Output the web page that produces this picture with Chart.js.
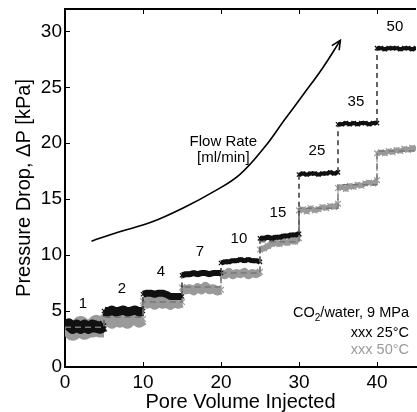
<!DOCTYPE html>
<html>
<head>
<meta charset="utf-8">
<script src="https://cdn.jsdelivr.net/npm/chart.js@4.4.0/dist/chart.umd.min.js"></script>
<style>
  html, body { margin: 0; padding: 0; background: #fff; }
  #wrap { width: 417px; height: 412px; }
</style>
</head>
<body>
<div id="wrap"><canvas id="chart" width="417" height="412"></canvas></div>
<script>
const FONT = "'Liberation Sans', Arial, Helvetica, sans-serif";

// one flow rate per step of 5 pore volumes
const stepStart = [0, 5, 10, 15, 20, 25, 30, 35, 40];
const flowRates = ['1', '2', '4', '7', '10', '15', '25', '35', '50'];

// pressure drop [kPa], read every 0.5 PV inside each step
const dp25 = [
  [3.6, 3.8, 3.5, 3.7, 3.5, 3.7, 3.5, 3.7, 3.6, 3.5, 3.7],
  [5.0, 4.9, 5.1, 4.9, 5.0, 5.1, 4.9, 5.0, 5.1, 4.9, 5.0],
  [6.5, 6.6, 6.6, 6.5, 6.6, 6.6, 6.5, 6.3, 6.3, 6.3, 6.3],
  [8.2, 8.3, 8.3, 8.4, 8.3, 8.4, 8.4, 8.3, 8.4, 8.4, 8.4],
  [9.3, 9.4, 9.4, 9.5, 9.5, 9.6, 9.5, 9.6, 9.5, 9.5, 9.4],
  [11.5, 11.5, 11.6, 11.5, 11.6, 11.6, 11.7, 11.7, 11.8, 11.8, 11.9],
  [17.2, 17.3, 17.2, 17.3, 17.3, 17.2, 17.3, 17.3, 17.4, 17.3, 17.4],
  [21.7, 21.7, 21.8, 21.7, 21.8, 21.7, 21.8, 21.8, 21.7, 21.8, 21.8],
  [28.5, 28.5, 28.4, 28.5, 28.5, 28.5, 28.4, 28.5, 28.5, 28.4, 28.5]
];
const dp50 = [
  [3.2, 3.5, 3.1, 3.4, 3.8, 3.2, 3.5, 3.4, 3.9, 3.4, 3.4],
  [4.1, 4.4, 4.0, 4.3, 4.1, 4.5, 4.0, 4.3, 4.4, 4.1, 4.3],
  [5.9, 5.7, 5.9, 5.6, 6.0, 5.7, 5.8, 5.6, 5.9, 5.7, 5.8],
  [7.1, 6.9, 7.0, 6.8, 7.1, 6.9, 7.2, 6.9, 7.0, 6.8, 6.9],
  [8.4, 8.2, 8.5, 8.2, 8.4, 8.3, 8.5, 8.2, 8.4, 8.3, 8.5],
  [10.5, 10.6, 10.8, 11.0, 11.1, 11.0, 11.2, 11.1, 11.3, 11.2, 11.5],
  [14.0, 14.1, 13.9, 14.2, 14.0, 14.1, 14.3, 14.2, 14.4, 14.3, 14.6],
  [16.0, 16.1, 15.9, 16.2, 16.1, 16.3, 16.2, 16.4, 16.5, 16.4, 16.7],
  [19.1, 19.2, 19.1, 19.3, 19.2, 19.4, 19.3, 19.5, 19.4, 19.6, 19.5]
];
// step averages at 50°C (dashed)
const mean50 = [3.55, 4.45, 5.8, 7.15, 8.4, 11.2, 14.2, 16.3, 19.3];

// "Flow Rate" arrow
const arrowX = [3.4, 6.8, 11.1, 15.4, 19.0, 22.4, 25.6, 28.1, 30.6, 33.1, 35.3];
const arrowY = [11.25, 12.05, 12.95, 14.3, 15.65, 17.2, 19.66, 22.05, 24.4, 26.8, 29.2];

const series25 = [];
const series50 = [];
stepStart.forEach((s, k) => {
  dp25[k].forEach((v, i) => series25.push({ x: s + i * 0.5, y: v }));
  dp50[k].forEach((v, i) => series50.push({ x: s + i * 0.5, y: v }));
});
const meanPts = stepStart.flatMap((s, k) => [{ x: s, y: mean50[k] }, { x: s + 5, y: mean50[k] }]);
const arrowPts = arrowX.map((x, i) => ({ x: x, y: arrowY[i] }));

// band thickness per step (px)
const band25 = [12, 9, 7, 6, 5, 5, 4, 4, 4];
const band50 = [17, 13, 11, 9, 8, 6, 5, 5, 5];

function isJump(c) { return c.p0.parsed.x === c.p1.parsed.x; }
function stepOf(c) { return Math.min(8, Math.floor(c.p0.parsed.x / 5)); }

const decor = {
  id: 'decor',
  afterDraw(chart) {
    const { ctx, chartArea: a, scales: { x, y } } = chart;
    ctx.save();
    // top frame line
    ctx.fillStyle = '#000';
    ctx.fillRect(a.left - 1, a.top - 1, a.right - a.left + 1, 2);
    // inward ticks
    ctx.strokeStyle = '#000';
    ctx.lineWidth = 1;
    ctx.beginPath();
    y.ticks.forEach(t => {
      const py = Math.round(y.getPixelForValue(t.value)) + 0.5;
      ctx.moveTo(a.left, py); ctx.lineTo(a.left + 5, py);
    });
    x.ticks.forEach(t => {
      const px = Math.round(x.getPixelForValue(t.value)) + 0.5;
      ctx.moveTo(px, a.bottom); ctx.lineTo(px, a.bottom - 5);
      ctx.moveTo(px, a.top); ctx.lineTo(px, a.top + 5);
    });
    ctx.stroke();

    // arrow head
    const n = arrowPts.length;
    const x1 = x.getPixelForValue(arrowPts[n - 2].x), y1 = y.getPixelForValue(arrowPts[n - 2].y);
    const x2 = x.getPixelForValue(arrowPts[n - 1].x), y2 = y.getPixelForValue(arrowPts[n - 1].y);
    const ang = Math.atan2(y2 - y1, x2 - x1);
    ctx.lineWidth = 1.6;
    ctx.beginPath();
    ctx.moveTo(x2 - 10 * Math.cos(ang - 0.45), y2 - 10 * Math.sin(ang - 0.45));
    ctx.lineTo(x2, y2);
    ctx.lineTo(x2 - 10 * Math.cos(ang + 0.45), y2 - 10 * Math.sin(ang + 0.45));
    ctx.stroke();

    // flow rate labels
    ctx.fillStyle = '#000';
    ctx.font = '15px ' + FONT;
    ctx.textAlign = 'center';
    ctx.textBaseline = 'middle';
    flowRates.forEach((r, k) => {
      const top = Math.max(...dp25[k]);
      ctx.fillText(r, x.getPixelForValue(stepStart[k] + 2.3), y.getPixelForValue(top) - 21);
    });
    ctx.fillText('Flow Rate', x.getPixelForValue(20.3), y.getPixelForValue(20.1));
    ctx.fillText('[ml/min]', x.getPixelForValue(20.3), y.getPixelForValue(18.7));

    // legend text
    ctx.font = '14.5px ' + FONT;
    ctx.textAlign = 'left';
    const rx = a.right - 7;
    const w1 = ctx.measureText('CO').width;
    const w3 = ctx.measureText('/water, 9 MPa').width;
    ctx.font = '10px ' + FONT;
    const w2 = ctx.measureText('2').width;
    const lx = rx - (w1 + w2 + w3);
    const ly = a.bottom - 54;
    ctx.font = '14.5px ' + FONT;
    ctx.fillText('CO', lx, ly);
    ctx.font = '10px ' + FONT;
    ctx.fillText('2', lx + w1, ly + 5);
    ctx.font = '14.5px ' + FONT;
    ctx.fillText('/water, 9 MPa', lx + w1 + w2, ly);
    ctx.textAlign = 'right';
    ctx.fillStyle = '#000';
    ctx.fillText('xxx 25°C', rx, a.bottom - 34);
    ctx.fillStyle = '#9a9a9a';
    ctx.fillText('xxx 50°C', rx, a.bottom - 17);
    ctx.restore();
  }
};

new Chart(document.getElementById('chart'), {
  type: 'line',
  data: {
    datasets: [
      {
        label: 'arrow', data: arrowPts, order: 0,
        borderColor: '#000', borderWidth: 1.6, pointRadius: 0, tension: 0.4
      },
      {
        label: 'mean 50', data: meanPts, order: 1,
        borderColor: '#777', borderWidth: 1.5, borderDash: [6, 4], pointRadius: 0
      },
      {
        label: '25°C', data: series25, order: 2,
        borderColor: '#111', backgroundColor: '#111', borderJoinStyle: 'round',
        pointStyle: 'crossRot', pointRadius: 3, pointBorderColor: '#111', pointBorderWidth: 1.2,
        segment: {
          borderWidth: c => isJump(c) ? 1.3 : band25[stepOf(c)],
          borderDash: c => isJump(c) ? [5, 4] : undefined
        }
      },
      {
        label: '50°C', data: series50, order: 3,
        borderColor: '#9a9a9a', backgroundColor: '#9a9a9a', borderJoinStyle: 'round',
        pointStyle: 'crossRot', pointRadius: 4, pointBorderColor: '#9a9a9a', pointBorderWidth: 1.2,
        segment: {
          borderWidth: c => isJump(c) ? 1.3 : band50[stepOf(c)],
          borderDash: c => isJump(c) ? [5, 4] : undefined
        }
      }
    ]
  },
  options: {
    responsive: false,
    animation: false,
    layout: { autoPadding: false, padding: { top: 9, right: 1, left: 0, bottom: 0 } },
    plugins: { legend: { display: false }, tooltip: { enabled: false } },
    elements: { line: { tension: 0 } },
    scales: {
      x: {
        type: 'linear', min: 0, max: 45,
        ticks: { stepSize: 10, color: '#000', font: { size: 19, family: FONT }, padding: 4, maxRotation: 0 },
        grid: { display: false, drawTicks: false },
        border: { display: true, color: '#000', width: 2 },
        title: {
          display: true, text: 'Pore Volume Injected', color: '#000',
          font: { size: 20, family: FONT, lineHeight: 1 }, padding: { top: 0, bottom: 0 }
        },
        afterBuildTicks: s => { s.ticks = s.ticks.filter(t => t.value % 10 === 0 && t.value < 45); },
        afterFit: s => { s.height = 45; s.paddingLeft = 0; s.paddingRight = 0; }
      },
      y: {
        min: 0, max: 32,
        ticks: { stepSize: 5, color: '#000', font: { size: 19, family: FONT }, padding: 3 },
        grid: { display: false, drawTicks: false },
        border: { display: true, color: '#000', width: 2 },
        title: {
          display: true, text: 'Pressure Drop, ΔP [kPa]', color: '#000',
          font: { size: 20, family: FONT, lineHeight: 1 }, padding: { top: 14, bottom: 0 }
        },
        afterBuildTicks: s => { s.ticks = s.ticks.filter(t => t.value % 5 === 0 && t.value <= 30); },
        afterFit: s => { s.width = 65; s.paddingTop = 0; s.paddingBottom = 0; }
      }
    }
  },
  plugins: [decor]
});
</script>
</body>
</html>
